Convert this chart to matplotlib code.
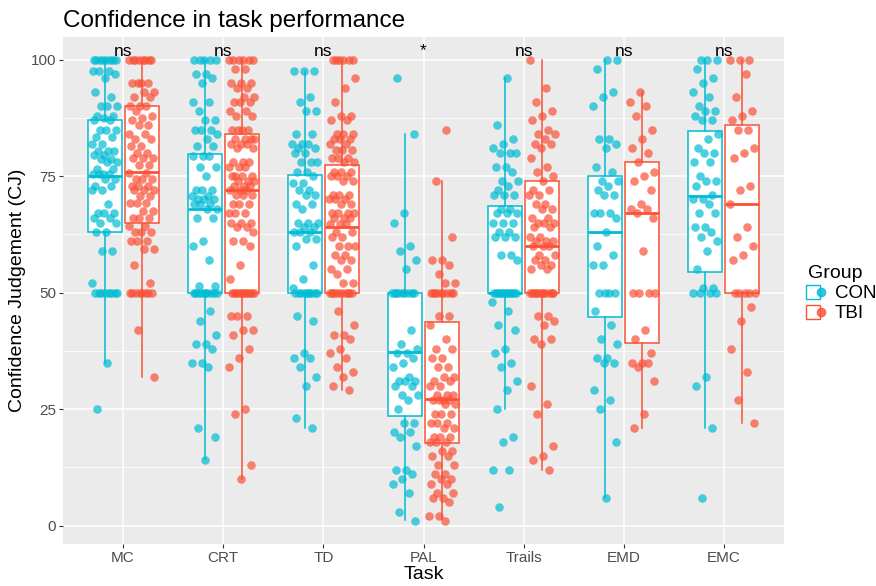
import numpy as np
import matplotlib
matplotlib.use('Agg')
import matplotlib.pyplot as plt
from matplotlib.lines import Line2D
from matplotlib.legend_handler import HandlerTuple

plt.rcParams['font.family'] = ['Liberation Sans', 'DejaVu Sans']

# --- data ---
tasks = ['MC', 'CRT', 'TD', 'PAL', 'Trails', 'EMD', 'EMC']
signif = ['ns', 'ns', 'ns', '*', 'ns', 'ns', 'ns']

mc_con = [100]*8 + [97.5]*3 + [97, 96, 93, 92] + [90]*3 + [88, 88, 87.5, 87, 87] + [85]*3 + \
    [83.5, 83.5, 82, 82, 80.5, 80.5, 80.5, 79.6, 79.6, 78.6, 78.6, 78, 78, 76.5, 76.5] + [75.4]*4 + \
    [74.3, 74.3, 73, 73, 72, 72, 69, 67, 67, 67, 66, 66, 65, 65, 63, 63, 59, 59, 52] + [50]*8 + [35, 25]
mc_tbi = [100]*8 + [95]*4 + [93, 93, 92, 92] + [90]*3 + \
    [89, 88, 87.5, 87, 86, 86, 84, 84, 83, 83, 81.4, 81.4, 80, 80, 79, 79, 79, 77.5, 77.5, 75.7, 75.7,
     74.3, 74.3, 74.3, 73, 73, 73, 72, 72, 72, 70.7, 70.7, 69.3, 69.3, 69.3, 67.5, 67.5, 66, 66, 66,
     64.3, 64.3, 63, 63, 63, 61, 61, 61, 59.3, 59.3, 56, 52] + [50]*8 + [42, 32]

crt_con = [100]*5 + [97, 97, 96, 95, 91, 91, 89, 87, 87, 85, 85, 85, 84, 83, 81.4, 81.4, 79.3, 79.3, 79.3,
                     77, 77, 75, 72, 72, 72, 70.7, 70.7, 70, 70, 70, 69, 69, 69, 68, 68, 66, 66, 61, 60, 57,
                     51.4, 51.4] + [50]*10 + [46, 44, 41, 39, 39, 38, 35, 35, 34, 21, 19, 14]
crt_tbi = [100]*6 + [98, 98, 95, 95, 95, 94, 94, 92, 92, 91, 91, 91, 89, 89, 88, 88, 85, 85, 85, 85, 83, 83,
                     83, 83, 82, 82, 82, 81, 81, 78, 78, 78, 77, 77, 77, 75, 75, 75, 75, 74, 74, 74, 73, 73,
                     73, 72, 72, 72, 71, 71, 71, 69, 69, 69, 67, 67, 67, 65, 65, 65, 64, 64, 63, 61, 61, 60,
                     56, 53] + [50]*12 + [45, 45, 45, 42, 42, 41, 38, 36, 34, 25, 24, 13, 10]

td_con = [97.5]*3 + [92, 91, 89, 89, 84, 84, 82, 82, 82, 81, 81, 80, 80, 78, 78, 78, 76, 76, 75, 73.6, 73.6,
                     72, 72, 71, 71, 69, 69, 68, 65, 65, 65, 64, 64, 63, 63, 63, 61.5, 61.5, 60, 56, 53,
                     51] + [50]*9 + [45, 44, 37, 36, 36, 34, 32, 30, 23, 21]
td_tbi = [100]*6 + [96, 94, 91, 88, 88, 87, 87, 84, 84, 84, 83, 83, 83, 82, 82, 80.7, 80.7, 80.7, 79, 79, 79,
                    78, 78, 76, 76, 76, 75, 75, 75, 74, 74, 71, 71, 71, 70, 70, 70, 69, 69, 67, 67, 67, 67,
                    66, 66, 66, 64.7, 64.7, 64.7, 63, 63, 62, 62, 60, 60, 60, 58, 58, 57, 57, 55, 55, 54,
                    52, 52] + [50]*10 + [46, 43, 41, 41, 40, 38, 37, 36, 34, 33, 32, 30, 29]

pal_con = [96, 84, 67, 65, 60, 59, 57, 55] + [50]*9 + \
    [42, 39, 38, 37, 37, 36, 35, 34, 32, 31, 31, 31, 30, 30, 28, 28, 27, 25, 22, 22, 20, 20, 19, 17,
     12, 12, 11, 10, 9, 7, 3, 1]
pal_tbi = [85, 74, 62, 57, 57, 56, 54, 52, 52] + [50]*9 + \
    [45, 45, 43, 40, 38, 38, 36, 36, 34, 34, 32, 32, 31, 31, 30, 30, 28, 28, 28, 27, 27, 27, 27, 26,
     26, 24, 24, 24, 22, 22, 22, 21, 21, 19, 19, 19, 18, 18, 18, 16, 16, 15, 15, 13, 13, 11, 11, 10,
     10, 9, 9, 7, 7, 6, 6, 5, 2, 2, 1]

trails_con = [96, 86, 83, 82, 81, 80, 80, 80, 77, 77, 76, 74, 74, 73, 72, 71, 71, 71, 68, 68, 67, 67, 67,
              65, 65, 65, 63, 63, 62, 62, 62, 58, 58, 57] + [50]*12 + \
    [48, 46, 43, 42, 38, 37, 35, 34, 31, 29, 25, 19, 18, 12, 12, 4]
trails_tbi = [100, 94, 91, 89, 88, 87, 85, 84, 84, 83, 82, 82, 81, 79, 77, 76, 75, 74, 72, 72, 71, 71, 69,
              69, 68, 68, 66, 66, 65, 65, 65, 64, 64, 62, 62, 61, 61, 61, 60, 60, 60, 58, 58, 57, 57, 56,
              56, 55, 55] + [50]*12 + [45, 45, 44, 43, 40, 40, 39, 30, 26, 24, 17, 15, 14, 12]

emd_con = [100, 100, 98, 93, 92, 90, 83, 83, 82, 81, 77, 76, 74, 74, 73, 72, 71, 71, 67, 67, 67, 66, 63,
           60, 58, 56, 56] + [50]*4 + [46, 43, 40, 39, 36, 36, 35, 35, 29, 27, 25, 18, 6]
emd_tbi = [93, 91, 90, 88, 85, 83, 81, 80, 78, 76, 75, 74, 72, 69, 68, 68, 67, 66, 59] + [50]*4 + \
    [42, 40, 37, 35, 35, 35, 34, 31, 24, 21]

emc_con = [100]*3 + [98, 96, 95, 93, 92, 90, 89, 89, 88, 87, 87, 84, 83, 81, 80, 80, 78, 78, 75, 74, 74,
                     73, 71, 70, 70, 69, 67, 67, 64, 64, 63, 62, 61, 59, 55, 51, 51] + [50]*4 + [32, 30, 21, 6]
emc_tbi = [100]*3 + [97, 92, 89, 88, 87, 85, 85, 81, 80, 79, 73, 72, 69, 64, 62, 60, 58, 57] + [50]*5 + \
    [47, 44, 38, 33, 27, 22]

# box summaries as drawn in the reference
con_q1 = [63, 50, 50, 23.6, 50, 44.7, 54.5]
con_med = [75, 68, 63, 37.2, 50, 63, 70.7]
con_q3 = [87, 79.7, 75.2, 50, 68.6, 75, 84.7]
con_lo = [35, 14.2, 21, 1.3, 25, 6, 21]
con_hi = [100, 100, 97.5, 84, 96, 100, 100]
tbi_q1 = [65, 50, 50, 17.7, 50, 39.2, 50]
tbi_med = [76, 72, 64, 27.2, 60, 67, 69]
tbi_q3 = [90, 84, 77.5, 43.6, 74, 78, 86]
tbi_lo = [32, 10, 29, 1.5, 12, 21, 22]
tbi_hi = [100, 100, 100, 74, 100, 93, 100]

con_points = [mc_con, crt_con, td_con, pal_con, trails_con, emd_con, emc_con]
tbi_points = [mc_tbi, crt_tbi, td_tbi, pal_tbi, trails_tbi, emd_tbi, emc_tbi]

con_col = '#00BCD4'
tbi_col = '#FA5236'

fig = plt.figure(figsize=(8.76, 5.86), dpi=100)
ax = fig.add_axes([0.0719, 0.0717, 0.8231, 0.8657])
ax.set_facecolor('#EBEBEB')
for s in ax.spines.values():
    s.set_visible(False)

pos = np.arange(len(tasks))


def draw_group(points, q1, med, q3, lo, hi, offset, color, seed):
    stats = [dict(q1=a, med=m, q3=b, whislo=l, whishi=h, fliers=[])
             for a, m, b, l, h in zip(q1, med, q3, lo, hi)]
    ax.bxp(stats, positions=pos + offset, widths=0.34, showcaps=False, showfliers=False,
           patch_artist=True, zorder=2,
           boxprops=dict(facecolor='white', edgecolor=color, linewidth=1.1),
           whiskerprops=dict(color=color, linewidth=1.1),
           medianprops=dict(color=color, linewidth=2))
    for i, vals in enumerate(points):
        n = len(vals)
        # deterministic horizontal jitter (golden ratio sequence)
        jit = ((np.arange(n) * 0.618034 + seed + 0.37 * i) % 1 - 0.5) * 0.26
        ax.scatter(pos[i] + offset + jit, vals, s=38, color=color, alpha=0.7,
                   linewidths=0, zorder=3)


draw_group(con_points, con_q1, con_med, con_q3, con_lo, con_hi, -0.185, con_col, 0.1)
draw_group(tbi_points, tbi_q1, tbi_med, tbi_q3, tbi_lo, tbi_hi, 0.185, tbi_col, 0.55)

for i, lab in enumerate(signif):
    ax.text(pos[i], 100.9, lab, ha='center', va='baseline', fontsize=12.5, color='black', zorder=4)

ax.set_xlim(-0.6, 6.6)
ax.set_ylim(-3.95, 104.95)
ax.set_xticks(pos)
ax.set_xticklabels(tasks)
ax.set_yticks([0, 25, 50, 75, 100])
ax.set_yticks([12.5, 37.5, 62.5, 87.5], minor=True)
ax.set_axisbelow(True)
ax.grid(which='major', color='white', linewidth=1.1)
ax.grid(which='minor', axis='y', color='white', linewidth=0.55)
ax.tick_params(which='major', length=2.6, width=0.8, color='#333333', labelcolor='#4D4D4D',
               labelsize=11, pad=2.5)
ax.tick_params(which='minor', length=0)

ax.set_xlabel('Task', fontsize=14, labelpad=1)
ax.set_ylabel('Confidence Judgement (CJ)', fontsize=14, labelpad=3)
ax.set_title('Confidence in task performance', loc='left', fontsize=17.5, pad=7)

h_con = (Line2D([], [], marker='s', markersize=10, markerfacecolor='white', markeredgecolor=con_col,
                linestyle='none'),
         Line2D([], [], marker='o', markersize=6, color=con_col, alpha=0.8, linestyle='none'))
h_tbi = (Line2D([], [], marker='s', markersize=10, markerfacecolor='white', markeredgecolor=tbi_col,
                linestyle='none'),
         Line2D([], [], marker='o', markersize=6, color=tbi_col, alpha=0.8, linestyle='none'))
leg = fig.legend([h_con, h_tbi], ['CON', 'TBI'], title='Group', loc='upper left',
                 bbox_to_anchor=(799 / 876, 1 - 256 / 586), frameon=False, fontsize=13.5,
                 title_fontsize=14, handler_map={tuple: HandlerTuple(ndivide=None, pad=0)},
                 handlelength=0.9, handletextpad=0.5, labelspacing=0.15, borderpad=0,
                 alignment='left')

fig.savefig('out.png', dpi=100)
